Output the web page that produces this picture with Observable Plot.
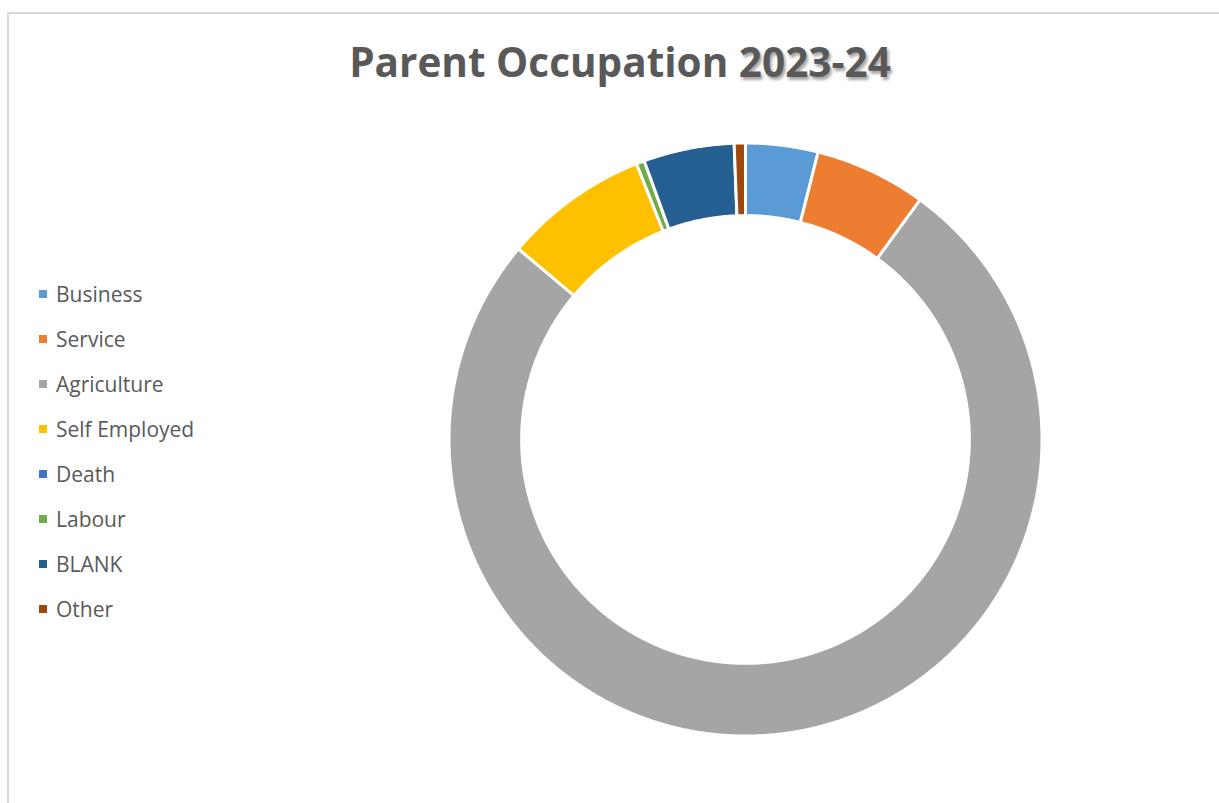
<!DOCTYPE html>
<html>
<head>
<meta charset="utf-8">
<script src="https://cdn.jsdelivr.net/npm/d3@7"></script>
<script src="https://cdn.jsdelivr.net/npm/@observablehq/plot@0.6"></script>
<style>
  html, body { margin: 0; padding: 0; background: #fff; }
  #wrap { position: relative; width: 1219px; height: 803px; overflow: hidden; background: #fff; font-family: "Open Sans", sans-serif; }
  #frame { position: absolute; left: 7px; top: 12px; width: 1300px; height: 900px; border-left: 2px solid #d9d9d9; border-top: 2px solid #d9d9d9; }
  #title { position: absolute; left: 0; width: 1240px; top: 42px; text-align: center; font-weight: 700; font-size: 40.5px; line-height: 40px; color: #595959; white-space: nowrap; }
  #title .yr { text-shadow: 2px 3px 3px rgba(0,0,0,0.35); }
  #chart { position: absolute; left: 445px; top: 139px; }
  .row { position: absolute; left: 39px; height: 24px; display: flex; align-items: center; font-size: 21px; line-height: 24px; color: #595959; white-space: nowrap; }
  .sw { width: 8px; height: 8px; margin-right: 9px; }
</style>
</head>
<body>
<div id="wrap">
  <div id="frame"></div>
  <div id="title">Parent Occupation <span class="yr">2023-24</span></div>
  <div id="legend"></div>
  <div id="chart"></div>
</div>
<script>
const categories = ["Business", "Service", "Agriculture", "Self Employed", "Death", "Labour", "BLANK", "Other"];
const values = [3.94, 6.08, 76.08, 7.89, 0, 0.44, 4.94, 0.61];
const colors = ["#5B9BD5", "#ED7D31", "#A5A5A5", "#FFC000", "#4472C4", "#70AD47", "#255E91", "#9E480E"];

const outerR = 1;
const innerR = 0.755;

const arcs = d3.pie().sort(null).value(d => d.value)(categories.map((name, i) => ({name, value: values[i]})));
const pts = [];
for (const a of arcs) {
  if (a.endAngle - a.startAngle <= 0) continue;
  const n = Math.max(2, Math.ceil((a.endAngle - a.startAngle) / 0.005) + 1);
  for (let k = 0; k < n; k++) {
    const t = a.startAngle + (a.endAngle - a.startAngle) * k / (n - 1);
    pts.push({name: a.data.name, x: outerR * Math.sin(t), y: outerR * Math.cos(t)});
  }
  for (let k = n - 1; k >= 0; k--) {
    const t = a.startAngle + (a.endAngle - a.startAngle) * k / (n - 1);
    pts.push({name: a.data.name, x: innerR * Math.sin(t), y: innerR * Math.cos(t)});
  }
}

const chart = Plot.plot({
  width: 600,
  height: 600,
  margin: 3.5,
  x: {domain: [-1, 1], axis: null},
  y: {domain: [-1, 1], axis: null},
  color: {domain: categories, range: colors},
  marks: [
    Plot.line(pts, {x: "x", y: "y", z: "name", fill: "name", stroke: "white", strokeWidth: 3, strokeLinejoin: "miter", curve: "linear-closed"})
  ]
});
document.getElementById("chart").appendChild(chart);

const legend = document.getElementById("legend");
categories.forEach((c, i) => {
  const row = document.createElement("div");
  row.className = "row";
  row.style.top = (282 + 45 * i) + "px";
  const sw = document.createElement("span");
  sw.className = "sw";
  sw.style.background = colors[i];
  const tx = document.createElement("span");
  tx.textContent = c;
  row.appendChild(sw);
  row.appendChild(tx);
  legend.appendChild(row);
});
</script>
</body>
</html>
